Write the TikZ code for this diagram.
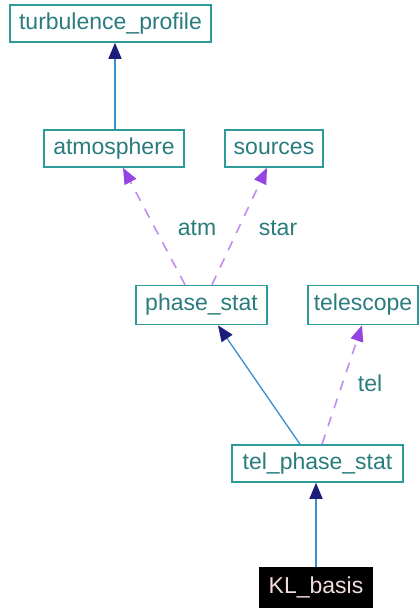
\documentclass[tikz,border=0pt]{standalone}
\usepackage{fontspec}
\setmainfont{Liberation Sans}
\usetikzlibrary{arrows.meta}
\definecolor{boxline}{HTML}{2F9A9A}
\definecolor{boxtext}{HTML}{2A7C7E}
\definecolor{solidline}{HTML}{3A8FD0}
\definecolor{solidhead}{HTML}{1C1C7A}
\definecolor{dashline}{HTML}{C28CF0}
\definecolor{dashhead}{HTML}{9444E0}
\definecolor{kltext}{HTML}{F2DCDC}
\tikzset{
  cls/.style={draw=boxline, line width=1.6pt, fill=white, text=boxtext,
    inner sep=0pt, minimum height=37pt, font=\fontsize{23}{27}\selectfont},
  focus/.style={cls, fill=black, draw=black, text=kltext},
  inherit/.style={draw=solidline, line width=1.3pt,
    -{Triangle[length=16pt,width=13pt,color=solidhead,fill=solidhead]}},
  uses/.style={draw=dashline, line width=1.6pt, dash pattern=on 10pt off 9pt,
    -{Triangle[length=16pt,width=13pt,color=dashhead,fill=dashhead]}},
  lbl/.style={text=boxtext, font=\fontsize{23}{27}\selectfont}
}
\begin{document}
\begin{tikzpicture}[x=1pt,y=-1pt]
\useasboundingbox[fill=white] (0,0) rectangle (420,610);

% classes
\node[cls, minimum width=201pt] (tp)  at (110.5,23.5) {turbulence\_profile};
\node[cls, minimum width=140pt] (atm) at (114,148.5)  {atmosphere};
\node[cls, minimum width=98pt]  (src) at (274,148.5)  {sources};
\node[cls, minimum width=131pt, minimum height=39pt] (ps)  at (201.5,305) {phase\_stat};
\node[cls, minimum width=110pt, minimum height=39pt] (tel) at (363,305)   {telescope};
\node[cls, minimum width=171pt] (tps) at (317.5,463.5) {tel\_phase\_stat};
\node[focus, minimum width=112pt, minimum height=39pt] (kl) at (316,587.5) {KL\_basis};

% inheritance
\draw[inherit] ([xshift=1pt]atm.north) -- ([xshift=4.5pt]tp.south);
\draw[inherit] ([xshift=-17.5pt]tps.north) -- ([xshift=16.5pt]ps.south);
\draw[inherit] (kl.north) -- ([xshift=-1.5pt]tps.south);

% usage relations
\draw[uses] ([xshift=-16.5pt]ps.north) -- ([xshift=9pt]atm.south);
\draw[uses] ([xshift=10.5pt]ps.north) -- ([xshift=-7pt]src.south);
\draw[uses] ([xshift=4.5pt]tps.north) -- ([xshift=-1pt]tel.south);

% member names
\node[lbl] (latm)  at (197,228) {atm};
\node[lbl] (lstar) at (278,228) {star};
\node[lbl] (ltel)  at (370,383) {tel};
\end{tikzpicture}
\end{document}
